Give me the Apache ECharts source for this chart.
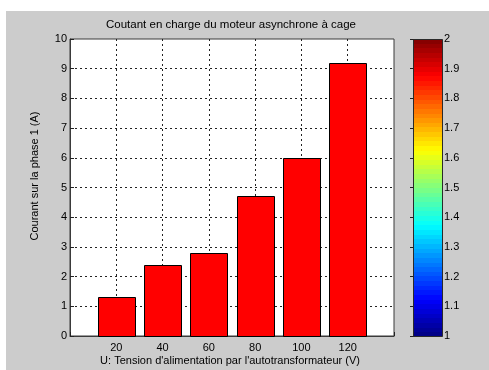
<!DOCTYPE html>
<html>
<head>
<meta charset="utf-8">
<script src="https://cdn.jsdelivr.net/npm/echarts@6/dist/echarts.min.js"></script>
<style>
  html, body { margin: 0; padding: 0; background: #ffffff; }
  #chart { width: 489px; height: 370px; }
</style>
</head>
<body>
<div id="chart"></div>
<script>
// Supply voltage (V) and phase-1 current (A)
const voltages = [20, 40, 60, 80, 100, 120];
const currents = [1.3, 2.4, 2.8, 4.7, 6.0, 9.2];
const xTickValues = [20, 40, 60, 80, 100, 120];
const colorbarRange = [1, 2];

const FONT = 'Liberation Sans, Arial, sans-serif';
const TEXT = '#000000';
const BAR_SPAN = 16; // bar width in x units

// MATLAB-style "jet" colormap, 64 discrete levels, as gradient stops (bottom -> top)
function jetColor(t) {
  const r = Math.max(0, Math.min(1, 1.5 - Math.abs(4 * t - 3)));
  const g = Math.max(0, Math.min(1, 1.5 - Math.abs(4 * t - 2)));
  const b = Math.max(0, Math.min(1, 1.5 - Math.abs(4 * t - 1)));
  return 'rgb(' + Math.round(r * 255) + ',' + Math.round(g * 255) + ',' + Math.round(b * 255) + ')';
}
const LEVELS = 64;
const jetStops = [];
for (let i = 0; i < LEVELS; i++) {
  const c = jetColor((i + 0.5) / LEVELS);
  jetStops.push({ offset: i / LEVELS, color: c });
  jetStops.push({ offset: (i + 1) / LEVELS, color: c });
}

const chart = echarts.init(document.getElementById('chart'), null, { renderer: 'canvas' });

const dashed = { type: [2, 3], color: '#222', width: 1 };

chart.setOption({
  animation: false,
  backgroundColor: '#ffffff',
  graphic: [
    { type: 'rect', z: -10, silent: true, shape: { x: 6, y: 11, width: 483, height: 359 }, style: { fill: '#cccccc' } },
    { type: 'text', x: 231, y: 25, style: { text: 'Coutant en charge du moteur asynchrone à cage', font: '11.5px ' + FONT, fill: TEXT, align: 'center', verticalAlign: 'middle' } },
    { type: 'text', x: 35, y: 176, rotation: Math.PI / 2, style: { text: 'Courant sur la phase 1 (A)', font: '11px ' + FONT, fill: TEXT, align: 'center', verticalAlign: 'middle' } },
    { type: 'text', x: 230, y: 361, style: { text: "U: Tension d'alimentation par l'autotransformateur (V)", font: '11px ' + FONT, fill: TEXT, align: 'center', verticalAlign: 'middle' } }
  ],
  grid: [
    { left: 70, top: 39, width: 324, height: 297, show: true, backgroundColor: '#ffffff', borderColor: '#3a3a3a', borderWidth: 1 },
    { left: 413, top: 39, width: 29, height: 297, show: false }
  ],
  xAxis: [
    {
      gridIndex: 0, type: 'value', min: 0, max: 140, interval: 20,
      axisLine: { show: true, onZero: false, lineStyle: { color: '#3a3a3a' } },
      axisTick: { show: true, inside: true, length: 4, lineStyle: { color: '#222' } },
      axisLabel: {
        margin: 6, color: TEXT, fontSize: 11, fontFamily: FONT,
        formatter: v => (xTickValues.indexOf(v) >= 0 ? String(v) : '')
      },
      splitLine: { show: true, showMinLine: false, showMaxLine: false, lineStyle: dashed }
    },
    {
      gridIndex: 1, type: 'value', min: 0, max: 1, show: false
    }
  ],
  yAxis: [
    {
      gridIndex: 0, type: 'value', min: 0, max: 10, interval: 1,
      axisLine: { show: true, lineStyle: { color: '#3a3a3a' } },
      axisTick: { show: true, inside: true, length: 4, lineStyle: { color: '#222' } },
      axisLabel: { margin: 3, color: TEXT, fontSize: 11, fontFamily: FONT },
      splitLine: { show: true, showMinLine: false, showMaxLine: false, lineStyle: dashed }
    },
    {
      gridIndex: 1, type: 'value', min: colorbarRange[0], max: colorbarRange[1], interval: 0.1,
      position: 'right',
      axisLine: { show: false },
      axisTick: { show: true, inside: true, length: 3, lineStyle: { color: '#222' } },
      axisLabel: { margin: 2, color: TEXT, fontSize: 11, fontFamily: FONT, formatter: v => String(Math.round(v * 10) / 10) },
      splitLine: { show: false }
    },
    {
      gridIndex: 1, type: 'value', min: colorbarRange[0], max: colorbarRange[1], interval: 0.1,
      position: 'left',
      axisLine: { show: false },
      axisTick: { show: true, inside: true, length: 3, lineStyle: { color: '#222' } },
      axisLabel: { show: false },
      splitLine: { show: false }
    }
  ],
  series: [
    {
      type: 'custom',
      xAxisIndex: 0, yAxisIndex: 0,
      data: voltages.map((v, i) => [v, currents[i]]),
      encode: { x: 0, y: 1 },
      z: 5,
      renderItem(params, api) {
        const x = api.value(0), y = api.value(1);
        const p0 = api.coord([x - BAR_SPAN / 2, 0]);
        const p1 = api.coord([x + BAR_SPAN / 2, y]);
        return {
          type: 'rect',
          shape: { x: Math.round(p0[0]) + 0.5, y: Math.round(p1[1]) + 0.5, width: Math.round(p1[0] - p0[0]), height: Math.round(p0[1] - p1[1]) },
          style: { fill: '#ff0000', stroke: '#000000', lineWidth: 1 }
        };
      }
    },
    {
      type: 'custom',
      xAxisIndex: 1, yAxisIndex: 1,
      data: [[0, colorbarRange[0], 1, colorbarRange[1]]],
      z: 1,
      renderItem(params, api) {
        const p0 = api.coord([api.value(0), api.value(1)]);
        const p1 = api.coord([api.value(2), api.value(3)]);
        return {
          type: 'rect',
          shape: { x: p0[0] + 0.5, y: p1[1] + 0.5, width: p1[0] - p0[0], height: p0[1] - p1[1] },
          style: {
            fill: new echarts.graphic.LinearGradient(0, 1, 0, 0, jetStops),
            stroke: '#2a2a2a', lineWidth: 1
          }
        };
      }
    }
  ]
});
</script>
</body>
</html>
